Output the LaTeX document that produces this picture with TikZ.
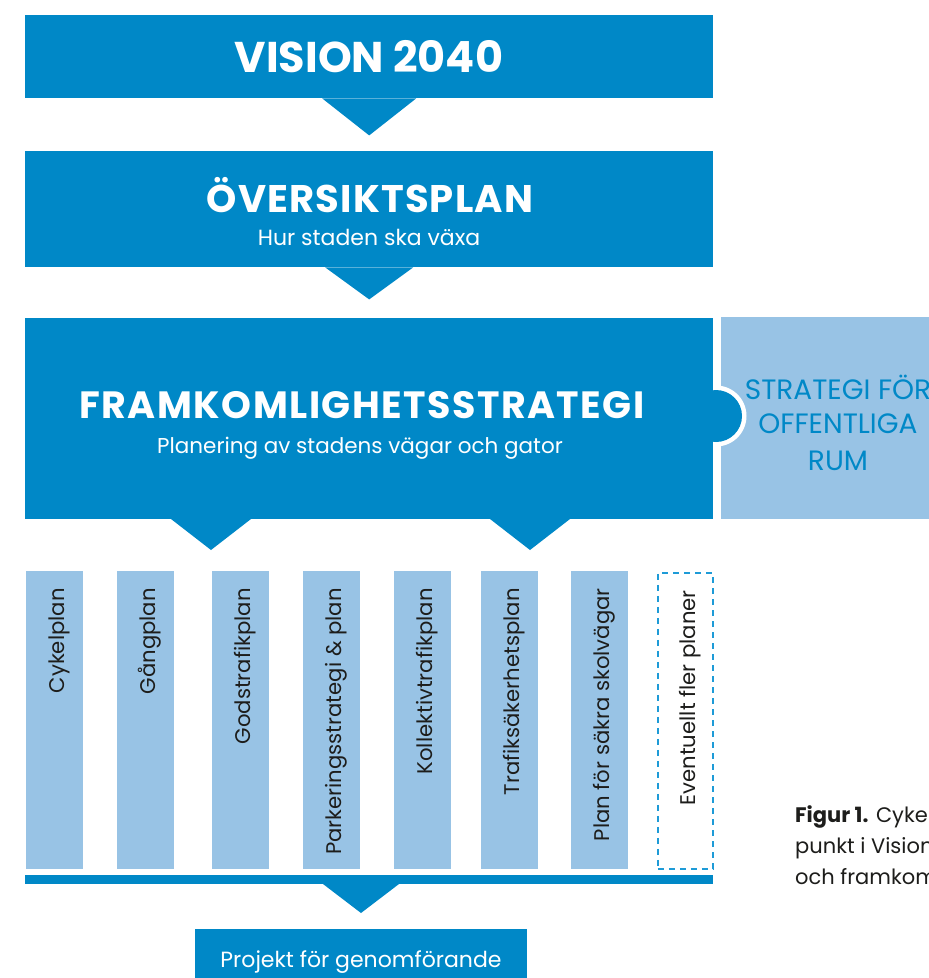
\documentclass[tikz,border=0pt]{standalone}
\usepackage{fontspec}
\setmainfont{Poppins}
\usetikzlibrary{calc}
\definecolor{dblue}{RGB}{0,136,199}
\definecolor{lblue}{RGB}{152,195,229}
\definecolor{dashblue}{RGB}{30,155,215}
\definecolor{txtcol}{RGB}{29,29,27}
\tikzset{
  bluebox/.style={fill=dblue, draw=none, inner sep=0pt, anchor=north west},
  planbox/.style={fill=lblue, draw=none, inner sep=0pt, anchor=north west, minimum width=57pt, minimum height=298pt},
  dashbox/.style={draw=dashblue, line width=1.8pt, dash pattern=on 6pt off 5pt, inner sep=0pt, anchor=north west, minimum width=55pt, minimum height=296pt},
  plantext/.style={rotate=90, anchor=base east, inner sep=0pt, text=txtcol, font=\fontsize{21.2}{21.2}\selectfont},
  titletext/.style={anchor=base, inner sep=0pt, text=white, font=\bfseries\fontsize{#1}{#1}\selectfont},
  subtext/.style={anchor=base, inner sep=0pt, text=white, font=\fontsize{22}{22}\selectfont},
  pointer/.style={fill=dblue, draw=none},
  captext/.style={anchor=base west, inner sep=0pt, text=txtcol, font=\fontsize{21}{21}\selectfont},
}
\begin{document}
\begin{tikzpicture}[x=1pt,y=-1pt]
\clip (0,0) rectangle (929,978);
\fill[white] (0,0) rectangle (929,978);
% top boxes
\node[bluebox, minimum width=688pt, minimum height=83pt] (vision) at (25,15) {};
\node[titletext=43] (visiont) at (369,72) {VISION 2040};
\fill[pointer] ($(vision.south)+(-47,0)$) -- ($(vision.south)+(47,0)$) -- ($(vision.south)+(0,37)$) -- cycle;
\node[bluebox, minimum width=688pt, minimum height=116pt] (op) at (25,151) {};
\node[titletext=38.5] (opt) at (370,212) {\addfontfeature{LetterSpace=3}ÖVERSIKTSPLAN};
\node[subtext] (ops) at (369,245) {Hur staden ska växa};
\fill[pointer] ($(op.south)+(-44,0)$) -- ($(op.south)+(44,0)$) -- ($(op.south)+(0,32)$) -- cycle;
% strategi for offentliga rum
\node[fill=lblue, draw=none, inner sep=0pt, anchor=north west, minimum width=240pt, minimum height=202pt] (sfor) at (721,317) {};
\node[anchor=base, inner sep=0pt, text=dblue, font=\fontsize{28}{28}\selectfont] (sfor1) at (838,399) {STRATEGI FÖR};
\node[anchor=base, inner sep=0pt, text=dblue, font=\fontsize{28}{28}\selectfont] (sfor2) at (838,433) {OFFENTLIGA};
\node[anchor=base, inner sep=0pt, text=dblue, font=\fontsize{28}{28}\selectfont] (sfor3) at (838,470) {RUM};
\fill[white] (716,416) circle (30.5pt);
% framkomlighetsstrategi
\node[bluebox, minimum width=688pt, minimum height=201pt] (fk) at (25,318) {};
\fill[dblue] (716,416) circle (26pt);
\node[titletext=38] (fkt) at (362,418) {\addfontfeature{LetterSpace=3.9}FRAMKOMLIGHETSSTRATEGI};
\node[subtext, font=\fontsize{21.5}{21.5}\selectfont] (fks) at (360,453) {Planering av stadens vägar och gator};
\fill[pointer] (171,519) -- (251,519) -- (211,550) -- cycle;
\fill[pointer] (490,519) -- (570,519) -- (530,550) -- cycle;
% plans
\node[planbox] (p1) at (26,571) {};
\node[planbox] (p2) at (117,571) {};
\node[planbox] (p3) at (212,571) {};
\node[planbox] (p4) at (303,571) {};
\node[planbox] (p5) at (394,571) {};
\node[planbox] (p6) at (481,571) {};
\node[planbox] (p7) at (571,571) {};
\node[dashbox] (p8) at (657,572) {};
\node[plantext] (t1) at ($(p1.north)+(10,17)$) {Cykelplan};
\node[plantext] (t2) at ($(p2.north)+(10,17)$) {Gångplan};
\node[plantext] (t3) at ($(p3.north)+(10,17)$) {Godstrafikplan};
\node[plantext] (t4) at ($(p4.north)+(10,17)$) {Parkeringsstrategi \& plan};
\node[plantext] (t5) at ($(p5.north)+(10,17)$) {Kollektivtrafikplan};
\node[plantext] (t6) at ($(p6.north)+(10,17)$) {Trafiksäkerhetsplan};
\node[plantext] (t7) at ($(p7.north)+(10,17)$) {Plan för säkra skolvägar};
\node[plantext] (t8) at ($(p8.north)+(10,18)$) {Eventuellt fler planer};
% bar and project
\node[bluebox, minimum width=688pt, minimum height=9pt] (bar) at (25,875) {};
\fill[pointer] (323,884) -- (399,884) -- (361,913) -- cycle;
\node[bluebox, minimum width=332pt, minimum height=70pt] (proj) at (195,929) {};
\node[subtext] (projt) at (361,967) {Projekt för genomförande};
% caption
\node[captext] (c1) at (795,822) {\textbf{Figur 1.} Cyke};
\node[captext] (c2) at (795,853) {punkt i Vision};
\node[captext] (c3) at (795,884) {och framkom};
\end{tikzpicture}
\end{document}
